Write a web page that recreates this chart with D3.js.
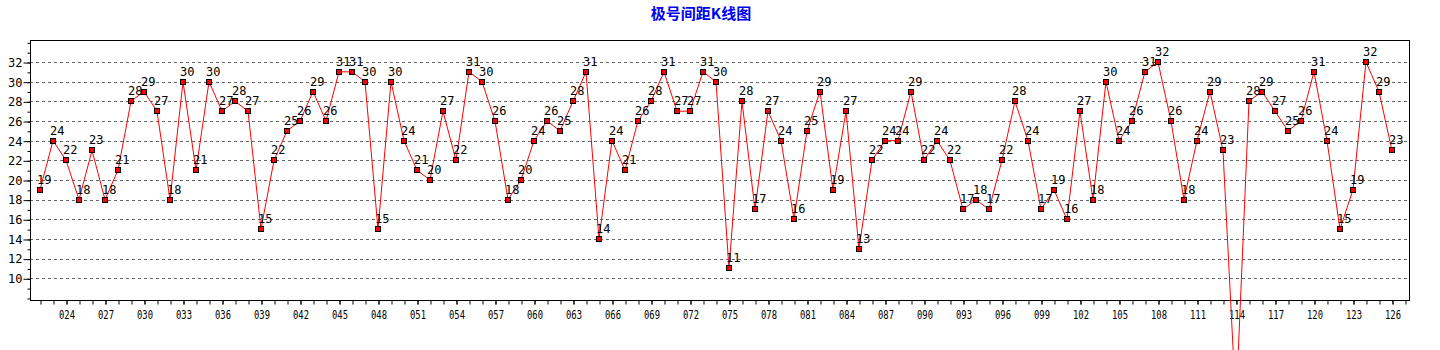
<!DOCTYPE html>
<html>
<head>
<meta charset="utf-8">
<title>极号间距K线图</title>
<script src="https://cdn.jsdelivr.net/npm/d3@7/dist/d3.min.js"></script>
<style>
    html, body { margin: 0; padding: 0; background: #fff; }
    #chart { width: 1440px; height: 350px; overflow: hidden; }
    .tick text { font-family: "DejaVu Sans Mono", monospace; }
</style>
</head>
<body>
<div id="chart"></div>
<script>
// periods on the x axis, one point per period
const periods = [
    '022', '023', '024', '025', '026', '027', '028', '029', '030', '031',
    '032', '033', '034', '035', '036', '037', '038', '039', '040', '041',
    '042', '043', '044', '045', '046', '047', '048', '049', '050', '051',
    '052', '053', '054', '055', '056', '057', '058', '059', '060', '061',
    '062', '063', '064', '065', '066', '067', '068', '069', '070', '071',
    '072', '073', '074', '075', '076', '077', '078', '079', '080', '081',
    '082', '083', '084', '085', '086', '087', '088', '089', '090', '091',
    '092', '093', '094', '095', '096', '097', '098', '099', '100', '101',
    '102', '103', '104', '105', '106', '107', '108', '109', '110', '111',
    '112', '113', '114', '115', '116', '117', '118', '119', '120', '121',
    '122', '123', '124', '125', '126'
];

// spread between the extreme numbers of each draw
const spans = [
    19, 24, 22, 18, 23, 18, 21, 28, 29, 27,
    18, 30, 21, 30, 27, 28, 27, 15, 22, 25,
    26, 29, 26, 31, 31, 30, 15, 30, 24, 21,
    20, 27, 22, 31, 30, 26, 18, 20, 24, 26,
    25, 28, 31, 14, 24, 21, 26, 28, 31, 27,
    27, 31, 30, 11, 28, 17, 27, 24, 16, 25,
    29, 19, 27, 13, 22, 24, 24, 29, 22, 24,
    22, 17, 18, 17, 22, 28, 24, 17, 19, 16,
    27, 18, 30, 24, 26, 31, 32, 26, 18, 24,
    29, 23, -3, 28, 29, 27, 25, 26, 31, 24,
    15, 19, 32, 29, 23
];

// labelled periods along the bottom axis
const xTickLabels = [
    '024', '027', '030', '033', '036', '039', '042', '045', '048', '051',
    '054', '057', '060', '063', '066', '069', '072', '075', '078', '081',
    '084', '087', '090', '093', '096', '099', '102', '105', '108', '111',
    '114', '117', '120', '123', '126'
];

const yTickLabels = [10, 12, 14, 16, 18, 20, 22, 24, 26, 28, 30, 32];

const chartTitle = '极号间距K线图';

function renderChart(container) {
    const width = 1440, height = 350;
    const plot = { left: 30, right: 1409, top: 40, bottom: 300 };

    const svg = d3.select(container)
        .append('svg')
        .attr('width', width)
        .attr('height', height);

    const xScale = d3.scaleLinear()
        .domain([21.23, 127.31])
        .range([plot.left, plot.right]);

    const yScale = d3.scaleLinear()
        .domain([7.79, 34.24])
        .range([plot.bottom, plot.top]);

    const points = periods.map((p, i) => ({ period: +p, value: spans[i] }));

    // title
    svg.append('text')
        .attr('x', 701)
        .attr('y', 19)
        .attr('text-anchor', 'middle')
        .attr('font-family', '"Noto Sans CJK SC", sans-serif')
        .attr('font-weight', 'bold')
        .attr('font-size', 15)
        .attr('fill', '#0000f0')
        .text(chartTitle);

    // dashed horizontal grid
    svg.append('g')
        .selectAll('line')
        .data(yTickLabels)
        .enter().append('line')
        .attr('x1', plot.left)
        .attr('x2', plot.right)
        .attr('y1', d => Math.round(yScale(d)) + 0.5)
        .attr('y2', d => Math.round(yScale(d)) + 0.5)
        .attr('stroke', '#666')
        .attr('stroke-dasharray', '3,3');

    // frame
    svg.append('rect')
        .attr('x', plot.left + 0.5)
        .attr('y', plot.top + 0.5)
        .attr('width', plot.right - plot.left)
        .attr('height', plot.bottom - plot.top)
        .attr('fill', 'none')
        .attr('stroke', '#000');

    // y axis: minor ticks on every integer, labels on even values
    svg.append('g')
        .attr('transform', `translate(${plot.left + 0.5}, 0.5)`)
        .call(d3.axisLeft(yScale).tickValues(d3.range(8, 35)).tickSize(3).tickFormat(''))
        .call(g => g.select('.domain').remove());

    svg.append('g')
        .attr('transform', `translate(${plot.left + 0.5}, 0.5)`)
        .call(d3.axisLeft(yScale).tickValues(yTickLabels).tickSize(7).tickPadding(1))
        .call(g => g.select('.domain').remove())
        .call(g => g.selectAll('text').attr('font-size', 12).attr('fill', '#000'));

    // x axis: a tick per period, label every third
    svg.append('g')
        .attr('transform', `translate(0.5, ${plot.bottom + 0.5})`)
        .call(d3.axisBottom(xScale).tickValues(d3.range(22, 128)).tickSize(4).tickFormat(''))
        .call(g => g.select('.domain').remove());

    svg.append('g')
        .attr('transform', `translate(0.5, ${plot.bottom + 0.5})`)
        .call(d3.axisBottom(xScale).tickValues(xTickLabels.map(Number)).tickSize(4).tickPadding(6)
            .tickFormat((d, i) => xTickLabels[i]))
        .call(g => g.select('.domain').remove())
        .call(g => g.selectAll('text')
            .attr('font-size', 12)
            .attr('fill', '#000')
            .attr('textLength', 16)
            .attr('lengthAdjust', 'spacingAndGlyphs'));

    // the K line
    const line = d3.line()
        .x(d => xScale(d.period))
        .y(d => yScale(d.value));

    svg.append('path')
        .datum(points)
        .attr('fill', 'none')
        .attr('stroke', '#ff0000')
        .attr('stroke-width', 1)
        .attr('d', line);

    // value labels, only for points that sit inside the plot
    const inside = points.filter(d => d.value >= yScale.domain()[0]);

    svg.append('g')
        .selectAll('text')
        .data(inside)
        .enter().append('text')
        .attr('x', d => xScale(d.period) - 3)
        .attr('y', d => yScale(d.value) - 6)
        .attr('font-family', '"DejaVu Sans Mono", monospace')
        .attr('font-size', 12)
        .attr('fill', '#000')
        .text(d => d.value);

    // square markers
    svg.append('g')
        .selectAll('rect')
        .data(points)
        .enter().append('rect')
        .attr('x', d => Math.round(xScale(d.period)) - 2.5)
        .attr('y', d => Math.round(yScale(d.value)) - 2.5)
        .attr('width', 5)
        .attr('height', 5)
        .attr('fill', '#ff0000')
        .attr('stroke', '#000')
        .attr('stroke-width', 1);
}

renderChart(document.getElementById('chart'));
</script>
</body>
</html>
